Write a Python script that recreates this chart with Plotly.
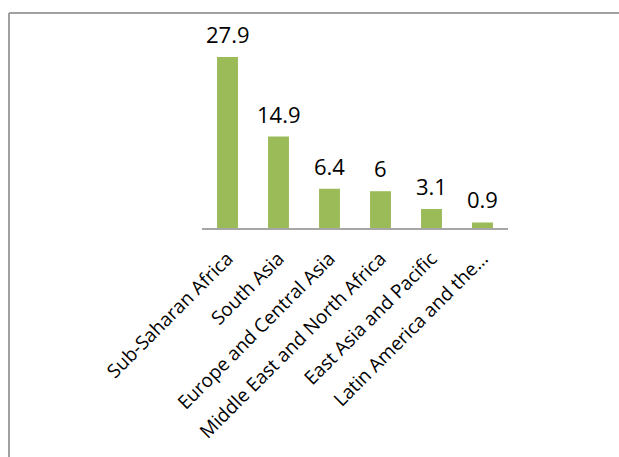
import plotly.graph_objects as go

categories = ["Sub-Saharan Africa", "South Asia", "Europe and Central Asia",
              "Middle East and North Africa", "East Asia and Pacific",
              "Latin America and the…"]
values = [27.9, 14.9, 6.4, 6, 3.1, 0.9]
value_labels = ["27.9", "14.9", "6.4", "6", "3.1", "0.9"]

W, H = 619, 457
# pixel position of the plot area in the picture
SX0, SX1, SY0, SY1 = 202, 508, 44, 228
L, T = SX0, SY0
R = W - SX1
B = H - SY1
pw, ph = SX1 - SX0, SY1 - SY0

def px_x(x):
    return (x - SX0) / pw

def px_y(y):
    return (SY1 - y) / ph

fig = go.Figure()
fig.add_trace(go.Bar(
    x=categories, y=values,
    marker=dict(color="#9BBB59", line=dict(width=0)),
    hoverinfo="skip",
))

for c, v, t in zip(categories, values, value_labels):
    fig.add_annotation(x=c, y=v, text=t, showarrow=False,
                       yanchor="bottom", yshift=6,
                       font=dict(family="Open Sans", size=22, color="#000000"))

border = dict(color="#a0a0a0", width=2)
fig.add_shape(type="line", xref="paper", yref="paper",
              x0=px_x(9), x1=px_x(W + 40), y0=px_y(13), y1=px_y(13), line=border)
fig.add_shape(type="line", xref="paper", yref="paper",
              x0=px_x(9), x1=px_x(9), y0=px_y(13), y1=px_y(H + 40), line=border)

fig.update_layout(
    width=W, height=H,
    margin=dict(l=L, r=R, t=T, b=B, pad=0, autoexpand=False),
    paper_bgcolor="white", plot_bgcolor="white",
    bargap=0.59,
    showlegend=False,
    xaxis=dict(tickangle=-45, showline=True, linecolor="#a6a6a6", linewidth=2,
               ticks="", showgrid=False, zeroline=False, automargin=False,
               ticklabelstandoff=10,
               tickfont=dict(family="Open Sans", size=19, color="#000000")),
    yaxis=dict(range=[0, 30], visible=False, showgrid=False, zeroline=False),
)

fig.write_html(
    "out.html",
    config={"displayModeBar": False},
    post_script=("document.body.style.margin='0';"
                 "document.documentElement.style.overflow='hidden';"
                 "document.body.style.overflow='hidden';"),
)
